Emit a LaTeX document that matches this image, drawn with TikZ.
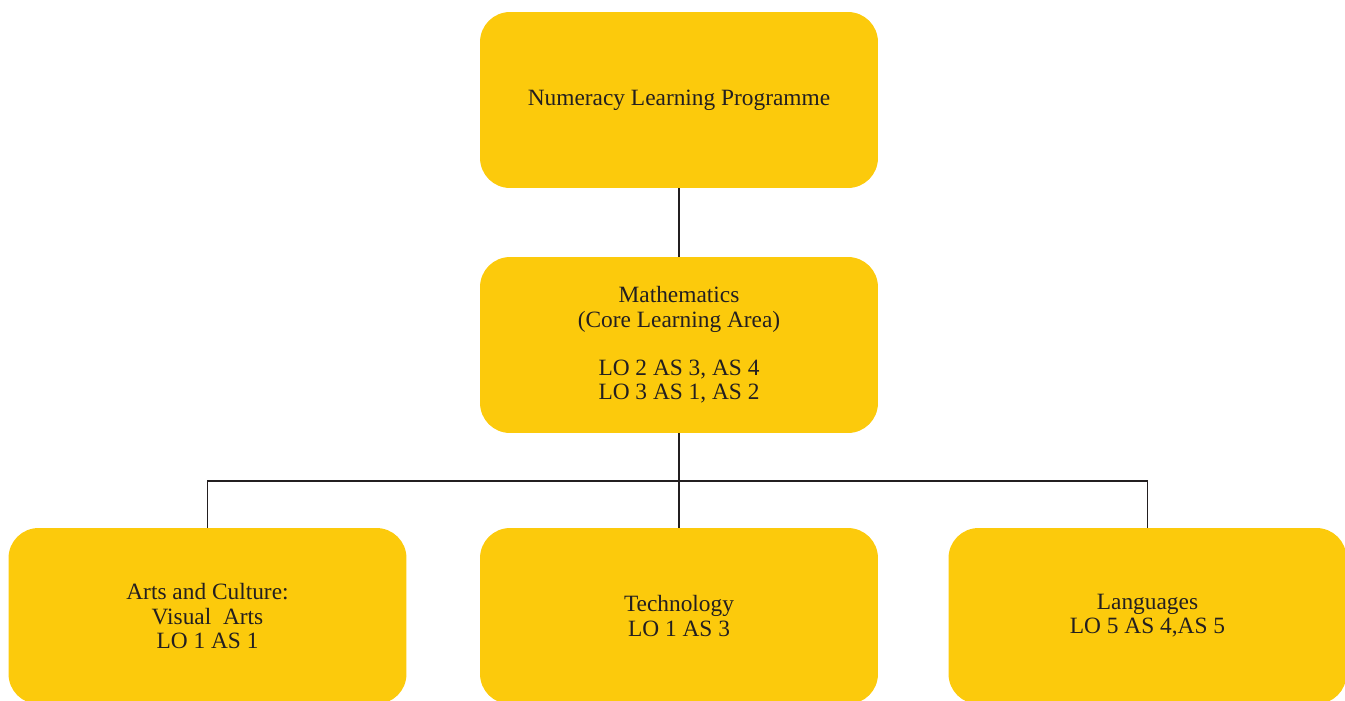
\documentclass[tikz,border=0pt]{standalone}
\usepackage{fontspec}
\setmainfont{Liberation Serif}
\usepackage{tikz}
\definecolor{boxyellow}{RGB}{252,202,12}
\definecolor{linegray}{RGB}{35,31,32}

\begin{document}
\begin{tikzpicture}[
  x=0.02cm, y=-0.02cm,
  box/.style={
    fill=boxyellow, rounded corners=0.6cm,
    minimum width=7.96cm, minimum height=3.52cm,
    align=center, text=linegray,
    font=\fontsize{13.3}{13.8}\selectfont
  },
  link/.style={draw=linegray, line width=1.1pt}
]
  \clip (0,0) rectangle (1345,700);
  \useasboundingbox (0,0) rectangle (1345,700);
  \node[box] (nlp) at (679,100){Numeracy Learning Programme};
  \node[box] (maths) at (679,345){Mathematics\\(Core Learning Area)\\[13.8pt]LO 2 AS 3, AS 4\\LO 3 AS 1, AS 2};
  \node[box] (arts) at (207.5,616){Arts and Culture:\\Visual~~Arts\\LO 1 AS 1};
  \node[box] (tech) at (679,616){Technology\\LO 1 AS 3};
  \node[box] (lang) at (1147.5,616){Languages\\LO 5 AS 4,AS 5};
  \coordinate (bus) at (679,481);
  \draw[link] (nlp.south)--(maths.north);
  \draw[link] (maths.south)--(bus)--(tech.north);
  \draw[link] (arts.north)|-(bus)-|(lang.north);
\end{tikzpicture}
\end{document}
